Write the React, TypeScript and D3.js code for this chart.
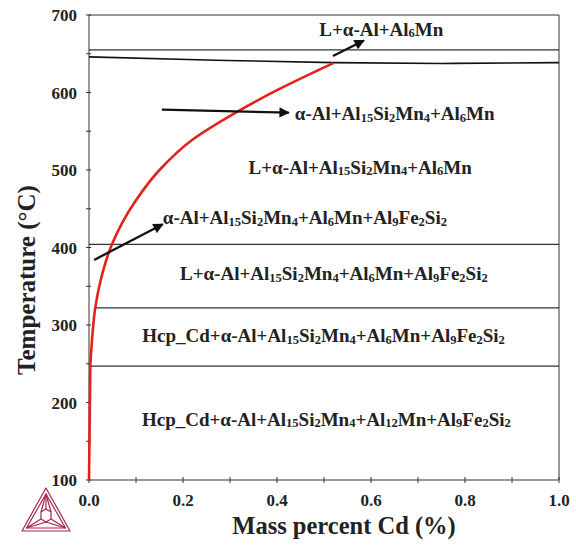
import React from 'react';
import * as d3 from 'd3';

// phase diagram data (mass percent Cd, temperature in C)
const redCurveCd = [0, 0.001, 0.002, 0.003, 0.0065, 0.013, 0.025, 0.048, 0.1, 0.15, 0.22, 0.315, 0.4, 0.52];
const redCurveT = [100, 152, 203, 248, 281, 321, 358, 403, 461, 500, 539, 575, 603, 638];

const slopedLineCd = [0, 0.25, 0.52, 0.75, 1.0];
const slopedLineT = [646, 642, 638.5, 637.5, 638.5];

const flatLineT = [655, 404, 322, 247];
const flatLineStart = [0, 0, 0.014, 0.002];

const xTicks = [0, 0.2, 0.4, 0.6, 0.8, 1.0];
const yTicks = [100, 200, 300, 400, 500, 600, 700];

const phaseLabels = [
  'L+α-Al+Al6Mn',
  'α-Al+Al15Si2Mn4+Al6Mn',
  'L+α-Al+Al15Si2Mn4+Al6Mn',
  'α-Al+Al15Si2Mn4+Al6Mn+Al9Fe2Si2',
  'L+α-Al+Al15Si2Mn4+Al6Mn+Al9Fe2Si2',
  'Hcp_Cd+α-Al+Al15Si2Mn4+Al6Mn+Al9Fe2Si2',
  'Hcp_Cd+α-Al+Al15Si2Mn4+Al12Mn+Al9Fe2Si2',
];
// label anchor point in data units, and anchor type
const labelCd = [0.622, 0.438, 0.577, 0.157, 0.521, 0.499, 0.505];
const labelT = [673, 564.5, 495, 430, 358, 278, 170];
const labelAnchor = ['middle', 'start', 'middle', 'start', 'middle', 'middle', 'middle'];

// arrows: [fromCd, fromT, toCd, toT]
const arrows = [
  [0.519, 647, 0.585, 667],
  [0.155, 578, 0.425, 574],
  [0.011, 384, 0.157, 430],
];

const W = 576;
const H = 549;
const x = d3.scaleLinear().domain([0, 1]).range([89, 559]);
const y = d3.scaleLinear().domain([100, 700]).range([480, 15]);

const serif = '"Liberation Serif", "Times New Roman", serif';
const ink = '#222';

function PhaseText({ text, px, py, anchor }: { text: string; px: number; py: number; anchor: string }) {
  // all digits in a phase name are subscripts
  const parts = text.match(/\d+|[^\d]+/g) || [];
  return (
    <text x={px} y={py} textAnchor={anchor} fontFamily={serif} fontWeight={700} fontSize={19} fill={ink}>
      {parts.map((p, i) =>
        /\d/.test(p) ? (
          <tspan key={i} fontSize={12.5} dy={1.5}>{p}</tspan>
        ) : (
          <tspan key={i} dy={i > 0 ? -1.5 : 0}>{p}</tspan>
        )
      )}
    </text>
  );
}

function Logo() {
  const c = '#a8274f';
  return (
    <g stroke={c} fill="none" strokeWidth={1.2} strokeLinejoin="round">
      <path d="M46,488 L22,531 L70,531 Z" />
      <path d="M46,494 L26.5,528 L65.5,528 Z" />
      <path d="M46,494 L46,509" />
      <path d="M26.5,528 L41,519" />
      <path d="M65.5,528 L51,519" />
      <path d="M46,509 L41,512 L41,519 L46,522 L51,519 L51,512 Z" />
      <path d="M41,512 L46,494 L51,512" />
      <path d="M26.5,528 L46,522 L65.5,528" />
    </g>
  );
}

export default function App() {
  const redLine = d3.line<number>().x((d, i) => x(redCurveCd[i])).y((d, i) => y(redCurveT[i])).curve(d3.curveMonotoneY);
  const slopedLine = d3.line<number>().x((d, i) => x(slopedLineCd[i])).y((d, i) => y(slopedLineT[i])).curve(d3.curveMonotoneX);
  const minorX = d3.range(0, 1.0001, 0.1);
  const minorY = d3.range(100, 700.1, 50);

  return (
    <svg width={W} height={H} style={{ position: 'absolute', left: 0, top: 0 }}>
      <defs>
        <marker id="head" viewBox="0 0 10 10" refX="9" refY="5" markerWidth="5.5" markerHeight="4.5" orient="auto" markerUnits="strokeWidth">
          <path d="M0,0 L10,5 L0,10 Z" fill="#111" />
        </marker>
      </defs>
      <rect width={W} height={H} fill="#fff" />

      {/* frame */}
      <g stroke="#333" strokeWidth={1} fill="none">
        <line x1={x(0)} x2={x(1)} y1={y(700)} y2={y(700)} />
        <line x1={x(1)} x2={x(1)} y1={y(700)} y2={y(100)} />
        <line x1={x(0)} x2={x(1)} y1={y(100)} y2={y(100)} />
        <line x1={x(0)} x2={x(0)} y1={y(700)} y2={y(100)} />
        {minorX.map((t) => (
          <line key={'x' + t} x1={x(t)} x2={x(t)} y1={y(100) - 3} y2={y(100) + 3} />
        ))}
        {minorY.map((t) => (
          <line key={'y' + t} x1={x(0) - 3} x2={x(0) + 2} y1={y(t)} y2={y(t)} />
        ))}
      </g>

      {/* tick labels */}
      <g fill={ink} fontFamily={serif} fontWeight={700} fontSize={17}>
        {xTicks.map((t) => (
          <text key={t} x={x(t)} y={y(100) + 26} textAnchor="middle">{t.toFixed(1)}</text>
        ))}
        {yTicks.map((t) => (
          <text key={t} x={x(0) - 12} y={y(t) + 6} textAnchor="end">{t}</text>
        ))}
      </g>

      {/* axis titles */}
      <text x={344} y={534} textAnchor="middle" fontFamily={serif} fontWeight={700} fontSize={24.5} fill={ink}>
        Mass percent Cd (%)
      </text>
      <text transform="translate(35,280) rotate(-90)" textAnchor="middle" fontFamily={serif} fontWeight={700} fontSize={25} fill={ink}>
        Temperature (°C)
      </text>

      {/* phase boundaries */}
      <g stroke="#333" strokeWidth={1.2} fill="none">
        {flatLineT.map((t, i) => (
          <line key={t} x1={x(flatLineStart[i])} x2={x(1)} y1={y(t)} y2={y(t)} />
        ))}
        <path d={slopedLine(slopedLineCd) || ''} strokeWidth={1.6} stroke="#111" />
      </g>
      <path d={redLine(redCurveCd) || ''} fill="none" stroke="#e3231b" strokeWidth={2.6} />

      {/* arrows */}
      <g stroke="#111" strokeWidth={2.3}>
        {arrows.map((a, i) => (
          <line key={i} x1={x(a[0])} y1={y(a[1])} x2={x(a[2])} y2={y(a[3])} markerEnd="url(#head)" />
        ))}
      </g>

      {/* phase labels */}
      {phaseLabels.map((l, i) => (
        <PhaseText key={l} text={l} px={x(labelCd[i])} py={y(labelT[i])} anchor={labelAnchor[i]} />
      ))}

      <Logo />
    </svg>
  );
}
